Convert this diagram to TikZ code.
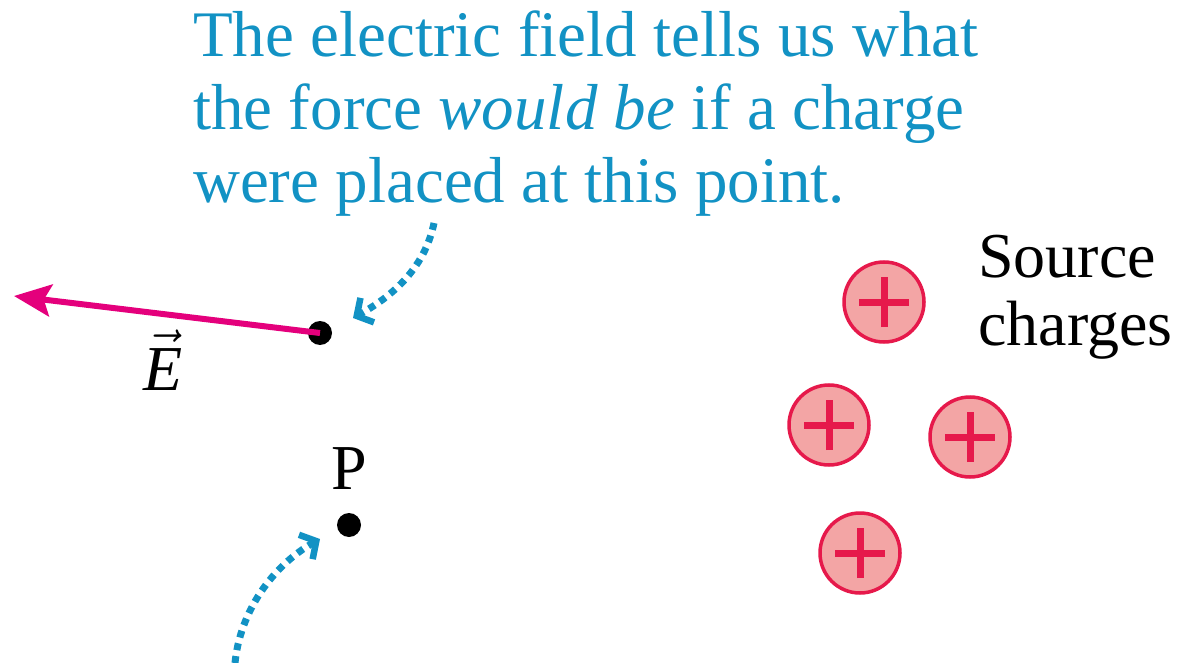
\RequirePackage{fix-cm}
\documentclass[tikz,border=0pt]{standalone}
\usepackage{fontspec}
\setmainfont{LiberationSerif}[Extension=.ttf, UprightFont=*-Regular, ItalicFont=*-Italic, BoldFont=*-Bold, BoldItalicFont=*-BoldItalic]
\usetikzlibrary{arrows.meta}
\definecolor{cblue}{RGB}{18,146,196}
\definecolor{cmag}{RGB}{228,0,124}
\definecolor{cedge}{RGB}{230,25,75}
\definecolor{cfill}{RGB}{243,165,165}
\tikzset{
  bigtext/.style={font=\fontsize{65}{73}\selectfont, inner sep=0pt},
  labeltext/.style={font=\fontsize{64}{68}\selectfont, inner sep=0pt},
  pointdot/.style={circle, fill=black, minimum size=24pt, inner sep=0pt},
  charge/.style={circle, draw=cedge, fill=cfill, line width=3.5pt, minimum size=80pt, inner sep=0pt,
    path picture={
      \draw[cedge, line width=7pt] ([xshift=-25pt]path picture bounding box.center) -- ([xshift=25pt]path picture bounding box.center);
      \draw[cedge, line width=7pt] ([yshift=-25pt]path picture bounding box.center) -- ([yshift=25pt]path picture bounding box.center);
    }},
  fieldarrow/.style={cmag, line width=6pt, -{Stealth[length=37pt,width=32pt,inset=7pt]}},
  hintarrow/.style={cblue, line width=7pt, dash pattern=on 7pt off 6pt,
    -{Straight Barb[length=12pt,width=28pt,line width=6.5pt]}}
}
\begin{document}
\begin{tikzpicture}[x=1pt,y=-1pt]
\useasboundingbox (0,0) rectangle (1178,663);

% title (anchor = baseline of last line)
\node[bigtext, text=cblue, anchor=base west, align=left] (title) at (193,203)
  {The electric field tells us what\\the force \textit{would be} if a charge\\were placed at this point.};

% points
\coordinate (etip) at (14,296);
\node[pointdot] (d1) at (320,333) {};
\draw[fieldarrow] (d1.center) -- (etip);
\node[pointdot] (p) at (349,525) {};
\node[labeltext, anchor=base] (elab) at (163,390) {$\vec{\mbox{\textit{E}}}$};
\node[labeltext, anchor=base] (plab) at (349,489) {P};

% hint arrows
\coordinate (h1s) at (434,223);
\coordinate (h1e) at (353,318);
\draw[hintarrow] (h1s) .. controls (426,262) and (400,292) .. (h1e);
\coordinate (h2s) at (235,663);
\coordinate (h2e) at (320,539);
\draw[hintarrow] (h2s) .. controls (240,612) and (272,566) .. (h2e);

% source charges
\node[charge] (c1) at (884,302) {};
\node[charge] (c2) at (829,425) {};
\node[charge] (c3) at (970,437) {};
\node[charge] (c4) at (860,553) {};
\node[labeltext, anchor=base west, align=left] (src) at (978,345) {Source\\charges};
\end{tikzpicture}
\end{document}
